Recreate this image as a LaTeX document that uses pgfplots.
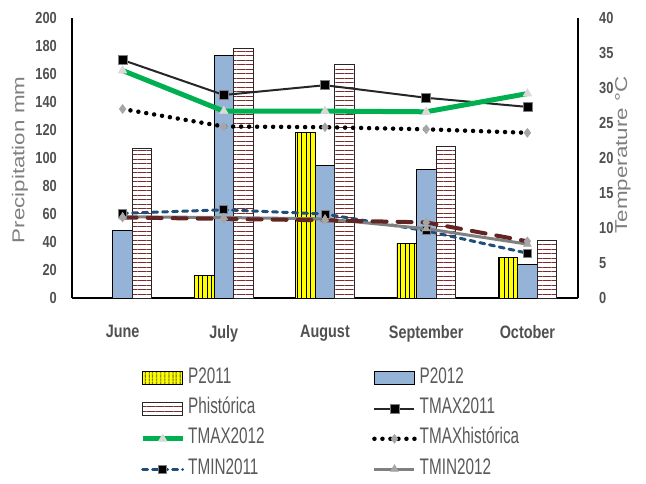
\documentclass[border=0pt]{standalone}
\usepackage{fontspec}
\usepackage{pgfplots}
\pgfplotsset{compat=1.18}
\usetikzlibrary{patterns.meta}
\setmainfont{Liberation Sans}
\newfontfamily\tickfont[FakeStretch=0.8]{Liberation Sans}
\newfontfamily\legfont[FakeStretch=0.68]{Liberation Sans}
\newfontfamily\titfont[FakeStretch=1.3]{Liberation Sans}
\definecolor{cYel}{HTML}{FFFF00}
\definecolor{cBlue}{HTML}{95B3D7}
\definecolor{cBrown}{HTML}{7B2C2C}
\definecolor{cGreen}{HTML}{00B050}
\definecolor{cNavy}{HTML}{1F4E79}
\definecolor{cRed}{HTML}{632523}
\definecolor{cGrayL}{HTML}{808080}
\definecolor{cMk}{HTML}{A6A6A6}
\definecolor{cMkL}{HTML}{D9D9D9}
\definecolor{cTick}{HTML}{505050}
\definecolor{cLeg}{HTML}{595959}
\definecolor{cTitle}{HTML}{7F7F7F}
\definecolor{cBlk}{HTML}{262626}
\pgfplotsset{
  barleg/.style={legend image code/.code={\draw[##1] (0pt,-7.5pt) rectangle (40pt,5.5pt);}},
  lineleg/.style={legend image code/.code={\draw[mark repeat=2,mark phase=2,##1] plot coordinates {(0pt,-1pt) (20pt,-1pt) (40pt,-1pt)};}},
}
\begin{document}
\begin{tikzpicture}
\useasboundingbox (0pt,0pt) rectangle (646pt,483pt);
\begin{axis}[
  at={(72pt,185pt)}, anchor=south west,
  width=506pt, height=280pt, scale only axis,
  xmin=-0.5, xmax=4.5, ymin=0, ymax=200,
  axis x line*=bottom, axis y line*=left,
  axis line style={line width=2.5pt, black},
  xtick={0,1,2,3,4}, xticklabels={June,July,August,September,October},
  ytick={0,20,...,200},
  major tick length=0pt,
  /pgf/number format/assume math mode=true,
  yticklabel style={font=\tickfont\bfseries\fontsize{16}{16}\selectfont, text=cTick, inner sep=0pt, anchor=east, xshift=-15pt},
  xticklabel style={font=\tickfont\bfseries\fontsize{18}{18}\selectfont, text=cTick, inner sep=0pt, anchor=north, yshift=-27pt},
  ylabel={Precipitation mm},
  ylabel style={at={(axis description cs:-0.1028,0.493)}, anchor=center, font=\titfont\fontsize{17.2}{17.2}\selectfont, text=cTitle, inner sep=0pt},
  bar width=19.5pt,
]
\addplot[ybar, bar shift=-19.5pt, draw=black, line width=0.8pt, fill=cYel, postaction={pattern={Lines[angle=90, distance=4.5pt, line width=0.9pt]}, pattern color=black}]
  coordinates {(1,16) (2,118) (3,39) (4,29)};
\addplot[ybar, bar shift=0pt, draw=black, line width=0.9pt, fill=cBlue]
  coordinates {(0,48) (1,173) (2,95) (3,92) (4,24)};
\addplot[ybar, bar shift=19.5pt, draw=cBlk, line width=0.8pt, fill=white, postaction={pattern={Lines[angle=0, distance=4.5pt, line width=0.8pt]}, pattern color=cBrown}]
  coordinates {(0,107) (1,178) (2,167) (3,108) (4,41)};
\end{axis}
\begin{axis}[
  at={(72pt,185pt)}, anchor=south west,
  width=506pt, height=280pt, scale only axis,
  xmin=-0.5, xmax=4.5, ymin=0, ymax=40,
  axis x line=none, axis y line*=right,
  axis line style={line width=2pt, black},
  ytick={0,5,...,40},
  major tick length=0pt,
  /pgf/number format/assume math mode=true,
  yticklabel style={font=\tickfont\bfseries\fontsize{16}{16}\selectfont, text=cTick, inner sep=0pt, anchor=west, xshift=21pt},
  ylabel={Temperature °C},
  ylabel style={at={(axis description cs:1.0889,0.5107)}, anchor=center, rotate=0, font=\titfont\fontsize{17.2}{17.2}\selectfont, text=cTitle, inner sep=0pt},
  lineleg,
  legend columns=2,
  legend cell align=left,
  legend style={at={(axis description cs:0.1344,-0.2429)}, anchor=north west, draw=none, fill=none, inner sep=0pt,
    font=\legfont\fontsize{22.5}{22.5}\selectfont, text=cLeg,
    nodes={inner sep=0pt, text height=17pt, text depth=5pt},
    row sep=8.3pt,
    /tikz/column 1/.style={column sep=3pt},
    /tikz/column 2/.style={column sep=0pt},
    /tikz/column 3/.style={column sep=3pt}},
]
\addlegendimage{barleg, draw=black, line width=0.8pt, fill=cYel, postaction={pattern={Lines[angle=90, distance=4pt, line width=0.9pt]}, pattern color=black}}
\addlegendentry{\makebox[184pt][l]{P2011}}
\addlegendimage{barleg, draw=black, line width=0.9pt, fill=cBlue}
\addlegendentry{P2012}
\addlegendimage{barleg, draw=cBlk, line width=0.8pt, fill=white, postaction={pattern={Lines[angle=0, distance=4.5pt, line width=0.8pt]}, pattern color=cBrown}}
\addlegendentry{\makebox[184pt][l]{Phistórica}}
% TMAX2011
\addplot[color=cBlk, line width=2pt, mark=square*, mark size=4.5pt, mark options={fill=black, draw=cGrayL, line width=0.5pt}]
  coordinates {(0,34.0) (1,29.0) (2,30.4) (3,28.6) (4,27.3)};
\addlegendentry{TMAX2011}
% TMAX2012
\addplot[color=cGreen, line width=5pt, line join=round, mark=triangle*, mark size=5pt, mark options={fill=cMkL, draw=cMkL, line width=0.5pt}]
  coordinates {(0,32.5) (1,26.7) (2,26.7) (3,26.6) (4,29.2)};
\addlegendentry{\makebox[184pt][l]{TMAX2012}}
% TMAXhistorica
\addplot[color=black, line width=4.5pt, line cap=round, dash pattern=on 0pt off 8pt, mark=diamond*, mark size=4.5pt, mark options={solid, fill=cMk, draw=cMk, line width=0.5pt}]
  coordinates {(0,27.0) (1,24.5) (2,24.4) (3,24.1) (4,23.6)};
\addlegendentry{TMAXhistórica}
% TMIN2011
\addplot[color=cNavy, line width=3pt, line cap=round, dash pattern=on 5pt off 5pt, mark=square*, mark size=4pt, mark options={solid, fill=black, draw=cGrayL, line width=1pt}]
  coordinates {(0,12.1) (1,12.6) (2,12.0) (3,9.6) (4,6.4)};
\addlegendentry{\makebox[184pt][l]{TMIN2011}}
% TMIN2012
\addplot[color=cGrayL, line width=3pt, mark=triangle*, mark size=4.5pt, mark options={fill=cMk, draw=cMk, line width=0.5pt}]
  coordinates {(0,11.6) (1,11.5) (2,11.3) (3,9.9) (4,7.7)};
\addlegendentry{TMIN2012}
% TMINhistorica
\addplot[forget plot, color=cRed, line width=4pt, line cap=round, dash pattern=on 14pt off 11pt, mark=diamond*, mark size=4.5pt, mark options={solid, fill=cMk, draw=cMk, line width=0.5pt}]
  coordinates {(0,11.5) (1,11.3) (2,11.1) (3,10.8) (4,8.1)};
\end{axis}
\end{tikzpicture}
\end{document}
